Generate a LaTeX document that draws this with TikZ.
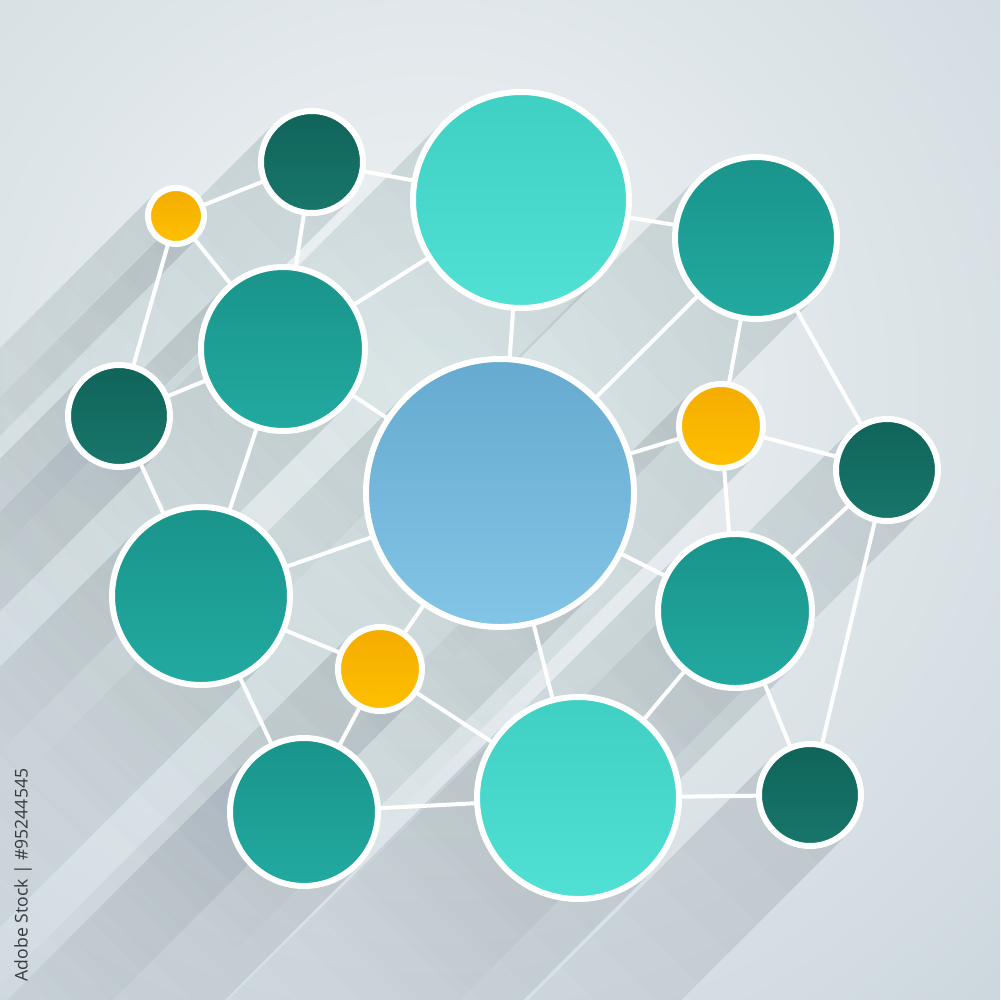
\documentclass[tikz,border=0pt]{standalone}
\usepackage{fontspec}
\newfontfamily\stockfont{Open Sans}
\pgfdeclarelayer{shadowlayer}
\pgfdeclarelayer{linelayer}
\pgfsetlayers{shadowlayer,linelayer,main}
\definecolor{bgIn}{HTML}{F1F4F5}
\definecolor{bgOut}{HTML}{BFCDD5}
\definecolor{shadowcol}{HTML}{2C5A74}
\definecolor{yelD}{HTML}{F4AC00}
\definecolor{yelL}{HTML}{FFC000}
\definecolor{dkD}{HTML}{10645A}
\definecolor{dkL}{HTML}{18766A}
\definecolor{tealD}{HTML}{19948B}
\definecolor{tealL}{HTML}{22AAA0}
\definecolor{bigD}{HTML}{3FCFC3}
\definecolor{bigL}{HTML}{50E0D4}
\definecolor{blueD}{HTML}{66AAD0}
\definecolor{blueL}{HTML}{82C5E6}
\definecolor{textcol}{HTML}{353B3F}
\tikzset{
  bubble/.style={circle, draw=white, line width=0.6mm, inner sep=0pt, outer sep=0pt, minimum size=#1},
  yel/.style={shade, shading angle=-45, top color=yelD, bottom color=yelL},
  dk/.style={shade, shading angle=-45, top color=dkD, bottom color=dkL},
  teal/.style={shade, shading angle=-45, top color=tealD, bottom color=tealL},
  big/.style={shade, shading angle=-45, top color=bigD, bottom color=bigL},
  blu/.style={shade, shading angle=-45, top color=blueD, bottom color=blueL},
  link/.style={draw=white, line width=0.4mm},
  longshadow/.style={fill=shadowcol, fill opacity=0.012}
}
\newcommand\bub[5]{%
  \begin{pgfonlayer}{shadowlayer}
    \foreach \k in {1,...,12}{
      \pgfmathsetmacro\sl{30*\k}
      \fill[longshadow] ({#2-0.7071*#4},{#3-0.7071*#4}) -- ({#2-0.7071*#4-\sl},{#3-0.7071*#4+\sl})
        -- ({#2+0.7071*#4-\sl},{#3+0.7071*#4+\sl}) -- ({#2+0.7071*#4},{#3+0.7071*#4}) -- cycle;
    }
  \end{pgfonlayer}
  \pgfmathsetmacro\bsz{(2*#4-6)*0.1}
  \node[bubble=\bsz mm, #5] (#1) at (#2,#3) {};
}
\begin{document}
\begin{tikzpicture}[x=0.1mm, y=-0.1mm]
\useasboundingbox (0,0) rectangle (1000,1000);
\begin{pgfonlayer}{shadowlayer}
  \begin{scope}
    \clip (0,0) rectangle (1000,1000);
    \shade[inner color=bgIn, outer color=bgOut] (430,380) circle (1150);
  \end{scope}
\end{pgfonlayer}
\bub{n1}{176}{216}{31}{yel}
\bub{n2}{312}{162}{54}{dk}
\bub{n3}{521}{200}{111}{big}
\bub{n4}{756}{238}{84}{teal}
\bub{n5}{283}{349}{85}{teal}
\bub{n6}{119}{416}{54}{dk}
\bub{n7}{500}{493}{137}{blu}
\bub{n8}{721}{426}{45}{yel}
\bub{n9}{887}{470}{54}{dk}
\bub{n10}{201}{596}{92}{teal}
\bub{n11}{380}{669}{45}{yel}
\bub{n12}{735}{611}{80}{teal}
\bub{n13}{304}{812}{77}{teal}
\bub{n14}{578}{798}{104}{big}
\bub{n15}{810}{795}{54}{dk}
\begin{pgfonlayer}{linelayer}
  \draw[link] (n1) -- (n2);
  \draw[link] (n1) -- (n5);
  \draw[link] (n1) -- (n6);
  \draw[link] (n2) -- (n5);
  \draw[link] (n2) -- (n3);
  \draw[link] (n5) -- (n3);
  \draw[link] (n5) -- (n6);
  \draw[link] (n5) -- (n7);
  \draw[link] (n5) -- (n10);
  \draw[link] (n6) -- (n10);
  \draw[link] (n3) -- (n7);
  \draw[link] (n3) -- (n4);
  \draw[link] (n4) -- (n7);
  \draw[link] (n4) -- (n8);
  \draw[link] (n4) -- (n9);
  \draw[link] (n8) -- (n7);
  \draw[link] (n8) -- (n9);
  \draw[link] (n8) -- (n12);
  \draw[link] (n9) -- (n12);
  \draw[link] (n9) -- (n15);
  \draw[link] (n7) -- (n12);
  \draw[link] (n7) -- (n10);
  \draw[link] (n7) -- (n11);
  \draw[link] (n7) -- (n14);
  \draw[link] (n10) -- (n11);
  \draw[link] (n10) -- (n13);
  \draw[link] (n11) -- (n13);
  \draw[link] (n11) -- (n14);
  \draw[link] (n13) -- (n14);
  \draw[link] (n12) -- (n14);
  \draw[link] (n12) -- (n15);
  \draw[link] (n14) -- (n15);
\end{pgfonlayer}
\node[rotate=90, text=textcol, font=\stockfont\fontsize{5pt}{6pt}\selectfont, inner sep=0pt] (stock) at (23,875) {Adobe Stock | \#95244545};
\end{tikzpicture}
\end{document}
